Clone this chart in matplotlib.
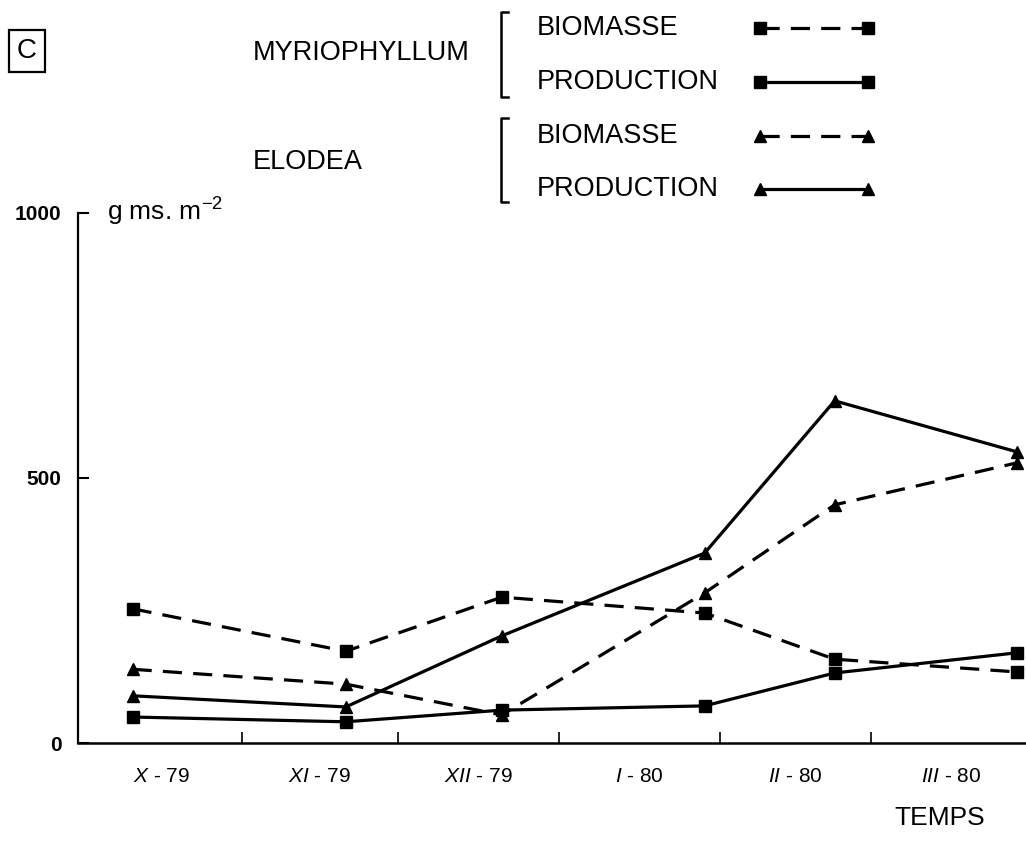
import matplotlib
matplotlib.use("Agg")
import matplotlib.pyplot as plt
import numpy as np

plt.rcParams['font.family'] = ['Liberation Sans', 'DejaVu Sans']
plt.rcParams['mathtext.fontset'] = 'custom'
plt.rcParams['mathtext.rm'] = 'Liberation Sans'
plt.rcParams['mathtext.it'] = 'Liberation Sans:italic'

# sampling dates, in days from 1 Oct 1979
days = [10, 51, 81, 120, 145, 180]

# g dry matter per m2
myrio_biomasse = [253, 173, 275, 245, 158, 134]
myrio_production = [49, 40, 62, 70, 132, 170]
elodea_biomasse = [139, 111, 53, 283, 449, 528]
elodea_production = [89, 68, 202, 358, 645, 549]

# month boundaries (days from 1 Oct 1979) and their labels
month_starts = [0, 31, 61, 92, 123, 152, 183]
month_numerals = ['X', 'XI', 'XII', 'I', 'II', 'III']
month_years = ['79', '79', '79', '80', '80', '80']

fig = plt.figure(figsize=(10.26, 8.48), dpi=100)
ax = fig.add_axes([0.076, 0.1238, 0.924, 0.6256])

lw = 2.3
ms = 8.5
dash = (0, (6, 3.5))
ax.plot(days, myrio_biomasse, color='black', lw=lw, ls=dash, marker='s', ms=ms, clip_on=False)
ax.plot(days, myrio_production, color='black', lw=lw, ls='-', marker='s', ms=ms, clip_on=False)
ax.plot(days, elodea_biomasse, color='black', lw=lw, ls=dash, marker='^', ms=ms, clip_on=False)
ax.plot(days, elodea_production, color='black', lw=lw, ls='-', marker='^', ms=ms, clip_on=False)

ax.set_xlim(-0.5, 181.8)
ax.set_ylim(0, 1000)
for side in ['top', 'right']:
    ax.spines[side].set_visible(False)
ax.spines['left'].set_linewidth(1.6)
ax.spines['bottom'].set_linewidth(1.8)

ax.set_xticks(month_starts[1:-1])
ax.set_xticklabels([])
ax.tick_params(axis='x', direction='in', length=8, width=1.2)
mids = [(a + b) / 2 for a, b in zip(month_starts[:-1], month_starts[1:])]
for m, num, yr in zip(mids, month_numerals, month_years):
    ax.text(m, -63, r'$\mathit{%s}$ - %s' % (num, yr), ha='center', va='center',
            fontsize=15)

ax.set_yticks([0, 500, 1000])
ax.set_yticklabels(['0', '500', '1000'], fontweight='bold', fontsize=15)
ax.tick_params(axis='y', direction='in', length=8, width=1.5, pad=12)

fig.text(107 / 1026, 1 - 212 / 848, r'g ms. m$^{-2}$', fontsize=19, va='center', ha='left')
fig.text(940 / 1026, 1 - 818 / 848, 'TEMPS', fontsize=19, ha='center', va='center')

# legend block drawn in figure pixel coordinates
lg = fig.add_axes([0, 0, 1, 1])
lg.set_xlim(0, 1026)
lg.set_ylim(848, 0)
lg.axis('off')

lg.text(27, 51, 'C', fontsize=20, ha='center', va='center',
        bbox=dict(boxstyle='square,pad=0.3', fc='white', ec='black', lw=1.6))
lg.text(253, 53, 'MYRIOPHYLLUM', fontsize=19.5, ha='left', va='center')
lg.text(253, 162, 'ELODEA', fontsize=19.5, ha='left', va='center')
for top, bottom in [(12, 97), (118, 202)]:
    lg.plot([508, 501, 501, 508], [top, top, bottom, bottom], color='black', lw=1.8)

entries = [
    ('BIOMASSE', 28, dash, 's'),
    ('PRODUCTION', 82, '-', 's'),
    ('BIOMASSE', 136, dash, '^'),
    ('PRODUCTION', 189, '-', '^'),
]
for label, y, ls, mk in entries:
    lg.text(537, y, label, fontsize=19.5, ha='left', va='center')
    lg.plot([760, 868], [y, y], color='black', lw=lw, ls=ls, marker=mk, ms=ms)

fig.savefig('out.png', dpi=100)
